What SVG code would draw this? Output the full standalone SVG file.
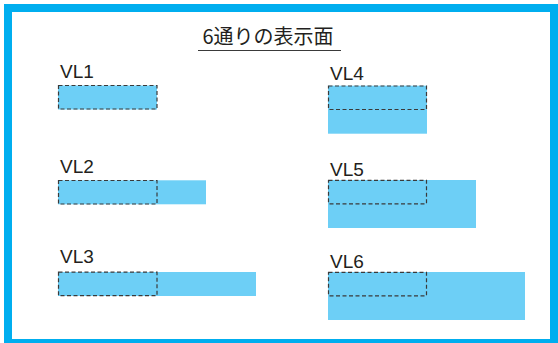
<svg xmlns="http://www.w3.org/2000/svg" width="558" height="343" viewBox="0 0 558 343">
<style>
.lbl{font-family:"Liberation Sans",Arial,sans-serif;font-size:19px;fill:#231f20}
.ttl{font-family:"Noto Sans CJK JP","Liberation Sans",sans-serif;font-size:20px;fill:#231f20}
.fill{fill:#6dcff6}
.dash{fill:none;stroke:#3a3a3a;stroke-width:1.2;stroke-dasharray:4 2.5}
</style>
<rect x="0" y="0" width="558" height="343" fill="#ffffff"/>
<rect x="8" y="8" width="546" height="335" fill="none" stroke="#00aeef" stroke-width="8"/>
<g id="title">
<text class="ttl" x="268" y="43.5" text-anchor="middle">6通りの表示面</text>
<line x1="198" y1="50.5" x2="341" y2="50.5" stroke="#3a3a3a" stroke-width="1.2"/>
</g>
<g id="VL1">
<text class="lbl" x="60" y="78.3">VL1</text>
<rect class="fill" x="58" y="85.5" width="99" height="24"/>
<rect class="dash" x="58.5" y="85.5" width="98.5" height="23.5"/>
</g>
<g id="VL2">
<text class="lbl" x="60" y="172.7">VL2</text>
<rect class="fill" x="58" y="180.3" width="148" height="24"/>
<rect class="dash" x="58.5" y="180.5" width="98.5" height="23.5"/>
</g>
<g id="VL3">
<text class="lbl" x="60" y="263.3">VL3</text>
<rect class="fill" x="58" y="272" width="198" height="24"/>
<rect class="dash" x="58.5" y="272.2" width="98.5" height="23.5"/>
</g>
<g id="VL4">
<text class="lbl" x="330" y="80">VL4</text>
<rect class="fill" x="328" y="85.7" width="99" height="48"/>
<rect class="dash" x="328.5" y="86" width="98" height="23.5"/>
</g>
<g id="VL5">
<text class="lbl" x="330" y="175.7">VL5</text>
<rect class="fill" x="328" y="180" width="148" height="48"/>
<rect class="dash" x="328.5" y="180.3" width="98" height="23.5"/>
</g>
<g id="VL6">
<text class="lbl" x="330" y="268.3">VL6</text>
<rect class="fill" x="328" y="272" width="197" height="48"/>
<rect class="dash" x="328.5" y="272.3" width="98" height="23.5"/>
</g>
<g id="connectors"></g>
</svg>
